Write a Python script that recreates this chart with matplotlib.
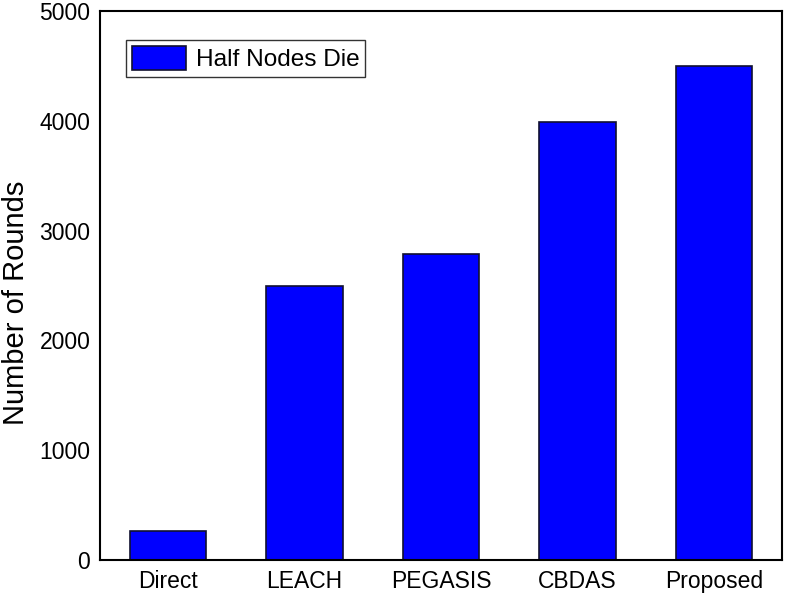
import matplotlib
matplotlib.use("Agg")
import matplotlib.pyplot as plt

categories = ["Direct", "LEACH", "PEGASIS", "CBDAS", "Proposed"]
half_nodes_die = [260, 2500, 2790, 3990, 4500]
y_ticks = [0, 1000, 2000, 3000, 4000, 5000]

plt.rcParams['font.family'] = ['Liberation Sans', 'DejaVu Sans']

fig = plt.figure(figsize=(7.85, 5.94), dpi=100)
ax = fig.add_axes([0.1274, 0.0572, 0.8688, 0.9243])
x = range(len(categories))
ax.bar(x, half_nodes_die, width=0.56, color="#0000ff", edgecolor="#101030",
       linewidth=1.2, label="Half Nodes Die")
ax.set_xlim(-0.5, len(categories) - 0.5)
ax.set_ylim(0, 5000)
ax.set_yticks(y_ticks)
ax.set_xticks(list(x))
ax.set_xticklabels(categories)
ax.tick_params(axis='both', length=0, labelsize=16.5, pad=7)
ax.set_ylabel("Number of Rounds", fontsize=21)
ax.yaxis.set_label_coords(-0.103, 0.468)
for s in ax.spines.values():
    s.set_linewidth(1.5)
leg = ax.legend(loc="upper left", bbox_to_anchor=(0.038, 0.947), fontsize=17.6,
                frameon=True, fancybox=False, edgecolor="black",
                handlelength=2.2, handleheight=1.1, borderpad=0.25,
                handletextpad=0.4, borderaxespad=0)
leg.get_frame().set_linewidth(1.0)
fig.savefig("out.png", dpi=100)
